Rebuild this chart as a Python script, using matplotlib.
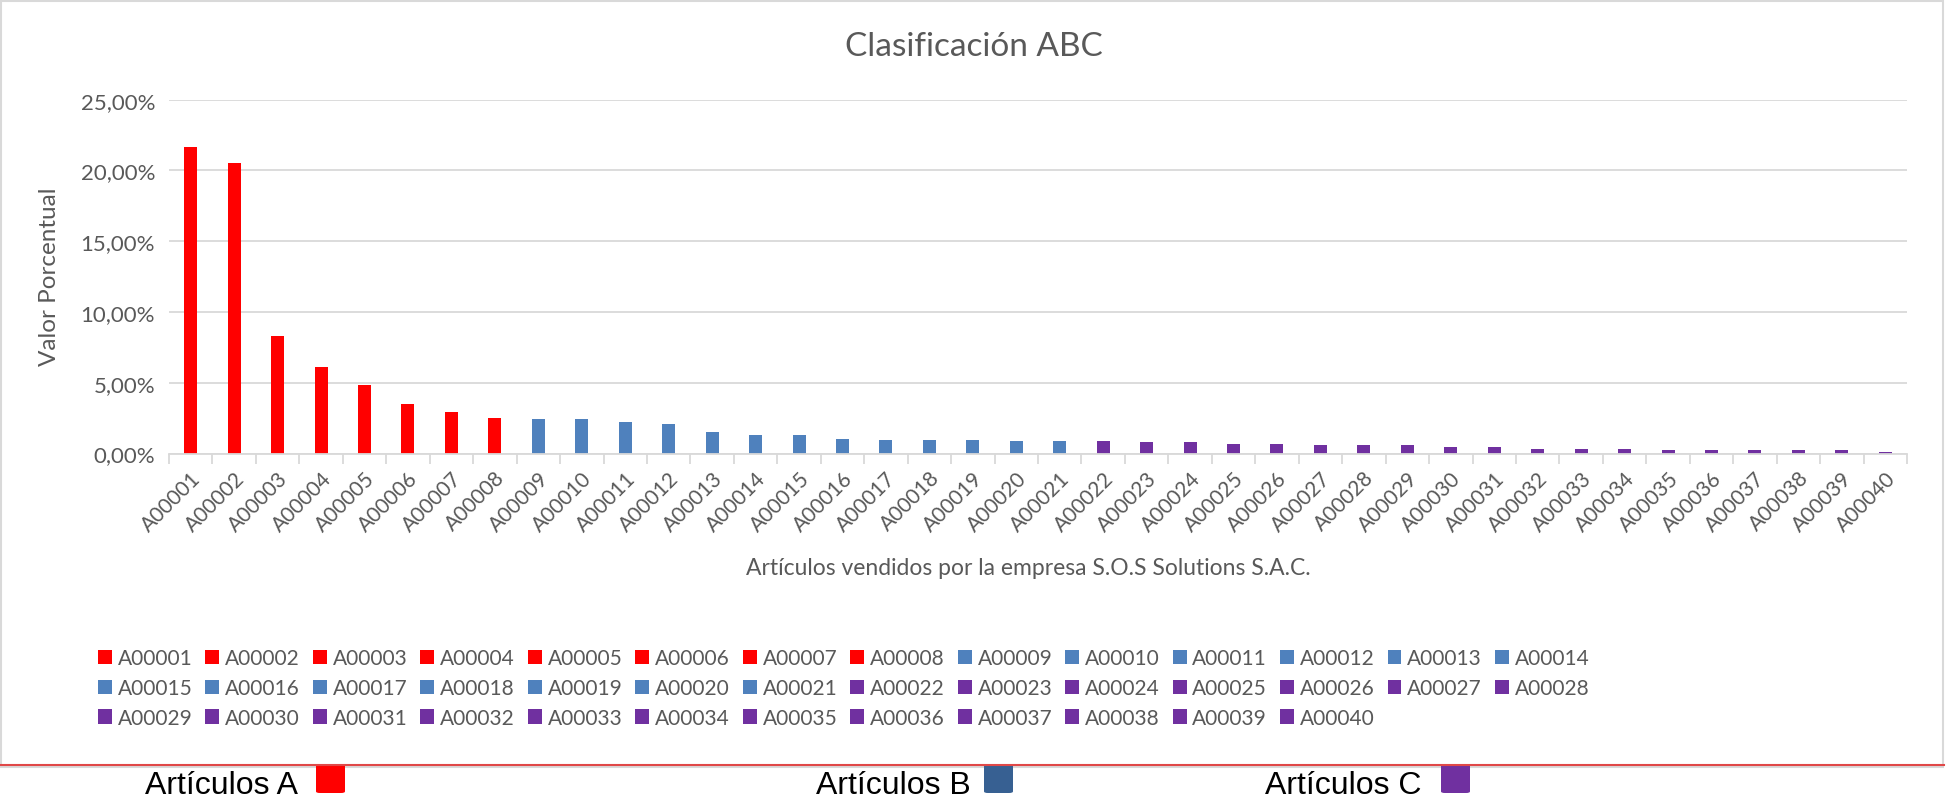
import matplotlib
matplotlib.use("Agg")
import matplotlib.pyplot as plt
from matplotlib.patches import Rectangle, FancyBboxPatch
from matplotlib.lines import Line2D
from matplotlib.ticker import FuncFormatter, FixedLocator

plt.rcParams['font.family'] = ['Lato', 'DejaVu Sans']

articulos = [f"A{str(i).zfill(5)}" for i in range(1, 41)]
valores = [21.68, 20.55, 8.33, 6.14, 4.87, 3.53, 2.90, 2.54, 2.45, 2.45,
           2.26, 2.08, 1.50, 1.34, 1.30, 1.01, 0.94, 0.94, 0.94, 0.87,
           0.87, 0.87, 0.80, 0.80, 0.66, 0.66, 0.59, 0.59, 0.59, 0.45,
           0.45, 0.31, 0.31, 0.31, 0.24, 0.24, 0.24, 0.24, 0.24, 0.09]
clases = ['A'] * 8 + ['B'] * 13 + ['C'] * 19
colores_clase = {'A': '#FF0000', 'B': '#4F81BD', 'C': '#7030A0'}
colores_leyenda = {'A': '#FF0000', 'B': '#376092', 'C': '#7030A0'}
etiquetas_clase = {'A': 'Artículos A', 'B': 'Artículos B', 'C': 'Artículos C'}

W, H = 1948, 803
fig = plt.figure(figsize=(W / 100, H / 100), dpi=100)

ax = fig.add_axes([169 / W, 1 - 454.5 / H, (1907 - 169) / W, (454.5 - 100.6) / H])

handles = []
for i, (name, v, c) in enumerate(zip(articulos, valores, clases)):
    b = ax.bar(i, v / 100, width=0.3, color=colores_clase[c], label=name, zorder=3)
    handles.append(b)

ax.set_xlim(-0.5, len(articulos) - 0.5)
ax.set_ylim(0, 0.25)
ax.set_yticks([0, 0.05, 0.10, 0.15, 0.20, 0.25])
ax.yaxis.set_major_formatter(FuncFormatter(lambda y, p: f"{y*100:.2f}%".replace('.', ',')))
ax.grid(axis='y', color='#D9D9D9', lw=1.3, zorder=0)
for s in ['top', 'right', 'left']:
    ax.spines[s].set_visible(False)
ax.spines['bottom'].set_color('#D9D9D9')
ax.spines['bottom'].set_linewidth(1.3)
ax.spines['bottom'].set_zorder(4)

ax.set_xticks(range(len(articulos)))
ax.set_xticklabels(articulos, rotation=45, ha='right', rotation_mode='anchor',
                   fontsize=15, color='#595959')
ax.tick_params(axis='x', which='major', length=0, pad=10)
ax.xaxis.set_minor_locator(FixedLocator([i - 0.5 for i in range(len(articulos) + 1)]))
ax.tick_params(axis='x', which='minor', length=7, color='#D9D9D9', width=1.3)
ax.tick_params(axis='y', length=0, labelsize=16, labelcolor='#595959', pad=10)

fig.text(0.5, 1 - 47 / H, 'Clasificación ABC', ha='center', va='center',
         fontsize=24, color='#595959')
fig.text(50 / W, 1 - 277 / H, 'Valor Porcentual', ha='center', va='center', rotation=90,
         fontsize=17.5, color='#595959')
fig.text(1028 / W, 1 - 569 / H, 'Artículos vendidos por la empresa S.O.S Solutions S.A.C.',
         ha='center', va='center', fontsize=16.5, color='#595959')

# legend in row-major order (matplotlib fills columns first)
ncol = 14
nrows = 3
orden = []
for j in range(ncol):
    for r in range(nrows):
        idx = r * ncol + j
        if idx < len(articulos):
            orden.append(idx)
fig.legend(handles=[handles[k] for k in orden], labels=[articulos[k] for k in orden],
           ncol=ncol, loc='upper left',
           bbox_to_anchor=(98 / W, 1 - 649 / H), frameon=False, fontsize=15,
           handlelength=0.67, handleheight=0.67, handletextpad=0.28,
           columnspacing=0.62, labelspacing=0.475, borderpad=0, borderaxespad=0,
           labelcolor='#595959')

# chart frame
fig.patches.append(Rectangle((1 / W, 1 - 768 / H), 1942 / W, 766 / H, transform=fig.transFigure,
                             fill=False, edgecolor='#D9D9D9', lw=1.5))
fig.lines.append(Line2D([0, 1944 / W], [1 - 766 / H, 1 - 766 / H], transform=fig.transFigure,
                        color='#E04848', lw=1.5))

# class legend below chart
pos = {'A': (145, 316), 'B': (816, 984), 'C': (1265, 1441)}
for k in ['A', 'B', 'C']:
    tx, sx = pos[k]
    fig.text(tx / W, 1 - 786 / H, etiquetas_clase[k], ha='left', va='center',
             fontsize=23, color='black', family=['Liberation Sans', 'DejaVu Sans'])
    fig.patches.append(FancyBboxPatch((sx / W, 1 - 794 / H), 29 / W, 29 / H,
                                      boxstyle='round,pad=0,rounding_size=0.002',
                                      transform=fig.transFigure, facecolor=colores_leyenda[k],
                                      edgecolor='none'))

fig.savefig('out.png', dpi=100)
